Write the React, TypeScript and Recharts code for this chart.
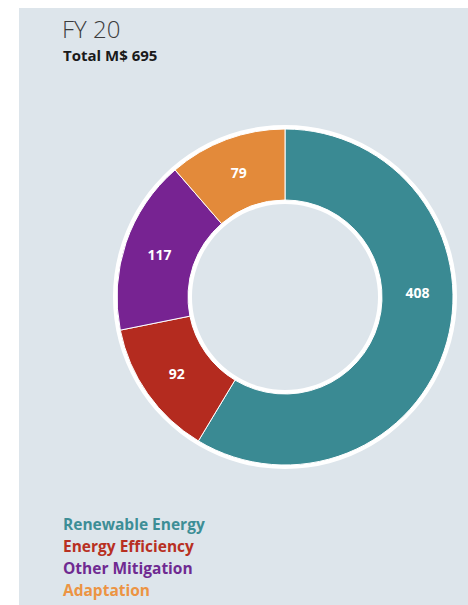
import { PieChart, Pie, Cell } from 'recharts';

const categories = ['Renewable Energy', 'Energy Efficiency', 'Other Mitigation', 'Adaptation'];
const values = [408, 92, 117, 79];
const sliceColors = ['#3a8a93', '#b42b1f', '#772392', '#e38a3a'];
const legendColors = ['#3d8e96', '#b83022', '#6f2a91', '#ec9443'];
const title = 'FY 20';
const subtitle = 'Total M$ 695';

const data = categories.map((name, i) => ({ name, value: values[i] }));
const ring = [{ name: 'ring', value: 1 }];

const RADIAN = Math.PI / 180;

const renderLabel = (props: any) => {
  const { cx, cy, innerRadius, outerRadius, midAngle, startAngle, endAngle, value } = props;
  // the big slice gets its label on the right side instead of its middle
  const angle = Math.abs(endAngle - startAngle) > 180 ? 2 : midAngle;
  const r = (innerRadius + outerRadius) / 2;
  const x = cx + r * Math.cos(-angle * RADIAN);
  const y = cy + r * Math.sin(-angle * RADIAN);
  return (
    <text x={x} y={y} fill="#ffffff" textAnchor="middle" dominantBaseline="central"
      fontFamily="'Open Sans', sans-serif" fontWeight={700} fontSize={14}>
      {value}
    </text>
  );
};

export default function App() {
  return (
    <div style={{ position: 'absolute', left: 0, top: 0, width: 468, height: 605, background: '#ffffff' }}>
      <div style={{ position: 'absolute', left: 19, top: 8, width: 449, height: 597, background: '#dde5eb' }} />
      <div style={{ position: 'absolute', left: 62, top: 12, fontFamily: "'Open Sans', sans-serif", fontWeight: 300, fontSize: 24, color: '#3c3c3c' }}>
        {title}
      </div>
      <div style={{ position: 'absolute', left: 63, top: 45, fontFamily: "'Open Sans', sans-serif", fontWeight: 700, fontSize: 15, color: '#1a1a1a' }}>
        {subtitle}
      </div>
      <div style={{ position: 'absolute', left: 0, top: 0 }}>
        <PieChart width={468} height={605} margin={{ top: 0, right: 0, bottom: 0, left: 0 }}>
          <Pie data={ring} dataKey="value" cx={285} cy={297} innerRadius={93} outerRadius={172}
            fill="#ffffff" stroke="none" isAnimationActive={false} />
          <Pie data={data} dataKey="value" nameKey="name" cx={285} cy={297} innerRadius={97} outerRadius={168}
            startAngle={90} endAngle={-270} stroke="#ffffff" strokeWidth={1}
            label={renderLabel} labelLine={false} isAnimationActive={false}>
            {data.map((d, i) => (
              <Cell key={d.name} fill={sliceColors[i]} />
            ))}
          </Pie>
        </PieChart>
      </div>
      <div style={{ position: 'absolute', left: 63, top: 513, fontFamily: "'Open Sans', sans-serif", fontWeight: 700, fontSize: 15.5, lineHeight: '22px' }}>
        {categories.map((c, i) => (
          <div key={c} style={{ color: legendColors[i] }}>{c}</div>
        ))}
      </div>
    </div>
  );
}
